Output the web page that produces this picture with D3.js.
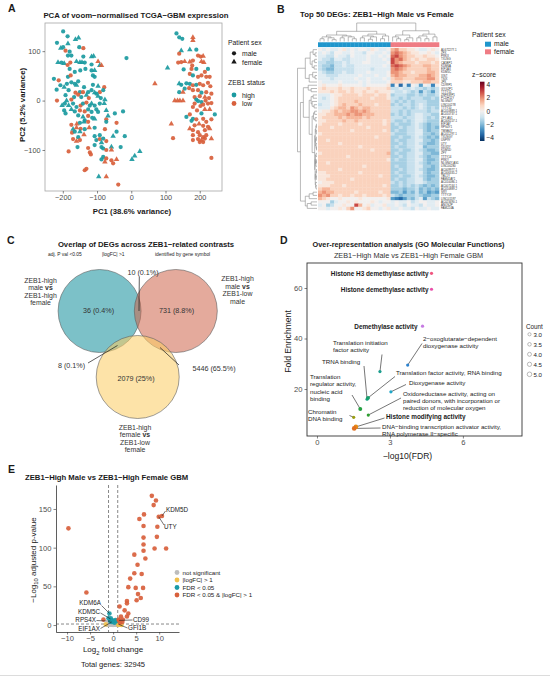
<!DOCTYPE html>
<html>
<head>
<meta charset="utf-8">
<script src="https://cdn.jsdelivr.net/npm/d3@7"></script>
<style>
  body { margin: 0; background: #fff; }
  svg { font-family: "Liberation Sans", Arial, sans-serif; }
</style>
</head>
<body>
<svg id="fig" width="550" height="680"></svg>
<script>
// ---------- data ----------
// A: PCA samples [PC1, PC2, sex (m/f), ZEB1 status (h/l)]
var pcaSamples = [
  [-199,140,"m","h"],[-186,130,"m","h"],[-154,127,"f","h"],[-163,124,"f","h"],[-217,117,"m","h"],[-185,115,"f","h"],
  [-152,108,"m","h"],[-140,106,"m","l"],[-206,106,"f","h"],[-199,108,"m","h"],[-180,99,"m","h"],[-192,101,"m","l"],
  [-185,91,"m","h"],[-175,91,"m","h"],[-140,89,"m","h"],[-116,89,"f","h"],[-110,90,"f","h"],[-14,86,"m","h"],
  [-214,77,"f","h"],[-204,77,"m","h"],[-196,75,"f","h"],[-186,72,"m","l"],[-178,77,"m","l"],[-160,79,"f","h"],
  [-150,77,"f","h"],[-144,77,"f","h"],[-136,77,"m","h"],[-97,79,"f","l"],[-92,71,"f","h"],[-87,71,"f","l"],
  [-116,73,"m","h"],[-180,64,"m","h"],[-165,58,"m","h"],[-134,64,"m","h"],[-116,61,"m","h"],[-107,61,"f","h"],
  [-149,61,"m","h"],[-185,48,"m","h"],[-177,51,"m","l"],[-112,51,"m","h"],[-107,48,"m","h"],[-226,44,"m","h"],
  [-212,41,"m","l"],[-155,39,"m","h"],[-175,37,"m","h"],[-207,31,"m","h"],[-188,34,"m","h"],[-165,34,"m","h"],
  [-160,31,"f","h"],[-196,27,"f","h"],[-138,27,"m","h"],[-79,27,"m","l"],[-112,32,"m","h"],[-97,29,"f","h"],
  [-218,22,"m","h"],[-183,21,"m","h"],[-150,17,"m","h"],[-141,17,"m","l"],[-163,16,"m","l"],[-126,17,"m","h"],
  [-116,21,"m","h"],[-107,16,"f","h"],[-92,17,"m","l"],[-82,21,"m","h"],[-102,14,"m","h"],[-192,11,"m","h"],
  [-167,7,"m","h"],[-155,12,"m","l"],[-146,7,"m","h"],[-131,11,"f","h"],[-124,5,"m","l"],[-97,9,"f","h"],
  [-89,5,"m","h"],[-77,2,"f","h"],[-217,0,"m","l"],[-189,0,"f","h"],[-175,2,"m","l"],[-202,-10,"f","h"],
  [-194,-6,"m","h"],[-183,-10,"f","h"],[-170,-6,"m","h"],[-160,-13,"m","h"],[-148,-10,"m","l"],[-141,-6,"m","h"],
  [-131,-4,"m","l"],[-121,-10,"m","h"],[-116,-6,"f","h"],[-107,-10,"m","h"],[-92,-6,"m","h"],[-79,-6,"f","h"],
  [-196,-20,"m","h"],[-175,-18,"f","h"],[-165,-22,"m","h"],[-150,-20,"m","l"],[-136,-22,"m","l"],[-126,-18,"m","h"],
  [-116,-23,"m","h"],[-102,-18,"m","h"],[-97,-23,"m","h"],[-73,-20,"f","h"],[-48,-26,"m","h"],[-24,-22,"m","h"],
  [-192,-26,"m","h"],[-155,-30,"m","h"],[-141,-33,"f","h"],[-126,-31,"m","l"],[-114,-35,"m","h"],[-107,-37,"f","h"],
  [-136,-40,"m","h"],[-73,-38,"m","l"],[-68,-31,"f","h"],[-175,-49,"m","l"],[-159,-47,"f","l"],[-150,-45,"m","h"],
  [-138,-43,"f","h"],[-126,-43,"m","l"],[-73,-43,"m","h"],[-43,-45,"m","l"],[-170,-58,"f","h"],[-160,-55,"f","l"],
  [-148,-57,"m","l"],[-136,-58,"m","h"],[-123,-55,"f","l"],[-107,-55,"m","h"],[-77,-58,"m","l"],[-173,-65,"m","l"],
  [-165,-63,"m","h"],[-150,-63,"f","h"],[-138,-69,"f","l"],[-155,-74,"m","h"],[-107,-72,"m","h"],[-92,-70,"m","h"],
  [-53,-72,"f","h"],[-43,-63,"m","h"],[-19,-72,"m","h"],[-170,-78,"m","l"],[-160,-82,"f","l"],[-150,-80,"m","l"],
  [-102,-80,"m","h"],[-92,-78,"m","l"],[-82,-77,"m","h"],[-73,-82,"m","l"],[-87,-85,"f","h"],[-157,-94,"m","h"],
  [-126,-96,"m","l"],[-107,-90,"m","h"],[-87,-94,"m","h"],[-82,-97,"m","h"],[-58,-94,"f","h"],[-31,-94,"m","h"],
  [-183,-103,"m","l"],[-121,-105,"m","l"],[-73,-100,"m","l"],[-58,-100,"f","l"],[-118,-109,"m","l"],[-82,-114,"m","h"],
  [-87,-119,"m","h"],[-73,-117,"m","l"],[-58,-121,"m","l"],[-43,-119,"f","l"],[25,-103,"f","h"],[10,-112,"f","h"],
  [2,-119,"f","h"],[-77,-124,"f","l"],[-53,-127,"m","l"],[-136,-141,"m","l"],[-131,-138,"m","l"],[-95,-154,"f","h"],
  [-73,-154,"f","l"],[-38,-170,"m","l"],
  [132,136,"m","h"],[140,128,"m","h"],[149,125,"m","h"],[180,128,"f","l"],[180,122,"f","l"],[146,101,"f","h"],
  [171,103,"f","h"],[190,103,"m","h"],[140,95,"m","l"],[195,91,"m","l"],[203,89,"m","l"],[210,90,"f","l"],
  [180,81,"m","l"],[205,79,"f","l"],[212,77,"f","l"],[137,77,"m","l"],[146,78,"m","l"],[156,79,"f","l"],
  [171,78,"f","l"],[178,71,"m","l"],[106,66,"f","h"],[153,63,"m","h"],[176,64,"m","l"],[190,64,"m","h"],
  [224,64,"m","h"],[215,58,"m","l"],[171,54,"m","l"],[180,51,"m","h"],[195,48,"m","l"],[205,51,"m","l"],
  [219,48,"m","l"],[229,48,"m","l"],[69,34,"f","l"],[140,34,"f","h"],[146,32,"m","h"],[161,35,"m","h"],
  [171,34,"m","h"],[180,31,"m","l"],[190,32,"m","h"],[200,34,"m","l"],[210,31,"m","l"],[224,36,"m","l"],
  [231,29,"m","l"],[156,24,"m","h"],[169,25,"m","l"],[140,17,"m","h"],[151,17,"f","l"],[180,21,"m","l"],
  [195,21,"m","l"],[205,16,"m","h"],[219,17,"m","l"],[234,14,"m","l"],[185,7,"m","l"],[200,9,"m","l"],
  [215,7,"f","l"],[227,5,"m","l"],[127,0,"f","l"],[135,0,"f","l"],[142,0,"f","l"],[151,0,"f","l"],
  [190,2,"m","h"],[195,-1,"m","h"],[205,-3,"m","h"],[217,0,"m","l"],[185,-6,"m","l"],[210,-8,"m","l"],
  [224,-6,"m","l"],[234,-5,"m","l"],[180,-13,"m","l"],[202,-11,"m","l"],[215,-18,"f","l"],[229,-18,"f","l"],
  [244,-28,"m","h"],[192,-20,"m","l"],[205,-26,"m","h"],[161,-33,"m","h"],[171,-28,"m","l"],[180,-37,"m","h"],
  [176,-41,"m","h"],[190,-38,"m","l"],[210,-37,"m","l"],[219,-43,"m","l"],[234,-38,"m","l"],[185,-50,"m","l"],
  [198,-47,"f","l"],[210,-51,"m","l"],[224,-53,"m","l"],[171,-57,"f","l"],[180,-60,"m","l"],[195,-64,"m","l"],
  [215,-60,"m","l"],[229,-57,"f","l"],[117,-47,"f","l"],[200,-70,"m","l"],[219,-70,"m","l"],[180,-70,"m","l"],
  [210,-74,"m","l"],[234,-77,"f","l"],[122,-76,"m","l"],[180,-80,"m","l"],[195,-78,"m","l"],[205,-80,"f","l"],
  [215,-77,"m","l"],[200,-84,"m","l"],[210,-84,"m","l"],[234,-116,"m","l"]
];
var pcaXTicks = [-200, -100, 0, 100, 200];
var pcaYTicks = [-100, 0, 100];

// B: heatmap, z-scores coded a..q = -4..4 in steps of 0.5 (18 male, 12 female samples)
var hmGenes = ["AL672277.1","ZFX","PRKX","TXLNG","CA5BP1","KDM6A","EIF1AX","KDM5C","XIST","TSIX","JPX","CD99P1",
  "GYG2P1","TTTY15","ZNF839P1","PCDH11Y","NLGN4Y","LINC00278","TTTY10","AC010889.1","AC010737.1","ZFY-AS1",
  "AC006157.1","EIF1AY","RPS4Y1","TMSB4Y","AC011297.1","TXLNGY","USP9Y","UTY","DDX3Y","KDM5D","ZFY","TTTY14",
  "PRKY","NLGN4Y-AS1","LINC00280","AC009977.1","AC006335.2","TBL1Y","FAM41AY1","AC010086.1","AC007244.1",
  "AC010889.2","SRY","TTTY19","LINC01597","AC023490.1","ANOS2P","FAM224A"];
var hmMale = ["ihihhijhihiihjihhi","hihgiihhihhgiihhih","hhggihhgihhhihhihi","hggfhhgghhhhihhhih","ggffgghghhhiihhhhi",
  "gffegghgghhhhhhhih","gfeeggggghhhhghhhh","hgffgghgghhhihhhhi","hhggghhhhhihhhihhi","hhhghhhhhihhihhhih",
  "ihhhhihhhhihihhhhi","ijiiijiiiiihiiiiij","jkjjjkjjkjjjkjjjjk","jjjkjkkjkjjkjjkjjj","hhhijjkkkkjkkkjkkj",
  "hghijkkkkkkkkjkkkj","hhhijkkkklkkkkkkkk","ghhijklkkklkkkjkkk","hhhjkllkmlkllkkkkk","ijjklkllmmlmlkkkkk",
  "jjkklllmlmmlllkkkk","jkkkklkllllklkkkkk","jjkkkklkklkkkkkkjk","jkkkkjkkkkjkkkkkjk","kkkjkkkkkkkkjkkkkk",
  "kkkkkkkkjkkkkkkkjk","jkkkkkkkkkkkkkkkkk","kkkkkkkkkkkkkkjkkk","kkjkkkkkkkkkkkkkkk","kkkkkjkkkkkkkkkkkk",
  "kkkkkkkkkkjkkkkkkk","kkkkkkkkkkkkkjkkkk","jkkkkkkkkkkkkkkkkl","kkkkkkkjkkkkkkkkkk","kkkkkkkkkkkkkkkkkj",
  "kkjkkkkkkkkkkkkkkk","kkkkkkkkkkkjkkkkkk","kkkkkjkkkkkkkkkkkk","jjkkkkkkkkjkkkkkkk","jjjkkkkkkkkkkkkjkk",
  "jjkkkkkkjkkkkkkkkk","ijjjkkkkkkkkkkkkkk","jjjkkkjkkkkkkkkkjk","kllkkkkkkkkkkkkkkk","lmllkkkkkjkkkkkjkk",
  "mlmkkjkkjkkjkkkkjk","lkjiijiiiijiiiiiij","iiifhiijijiiijihii","hifgiijiiolijhiijh","iihiijikmiijkiihij"];
var hmFemale = ["lmkkjjihhiji","mnmlkjjiijih","nomlkkjjkjji","omnlkjkjjkkj","omlkkkjkkkjk",
  "nonmlkkkllkk","mnmlkkkkklkk","mmlkkjkkkllk","lmllkkkllmlk","kllkkklllmmk",
  "kkkjjkkkllkk","cibhcihdihci","gghgghggfgfg","hgghgfgdgfdg","fgggffgfgffg",
  "ggfgfgggffgf","gfgfgfgggfff","fgfggfghgfff","gggfgfghgfgf","ggfgfggggfgg",
  "fgfgfghhggff","gggfgghhgfgf","gffgfghhgfff","fgfffghgfeff","ffgfgghgfefe",
  "fgffgghhfeff","gfffgghhffef","ffgffghgfefe","fgffgghhffef","ffgfgghgfeef",
  "fgffgghhefff","ffgffghgfeef","fgffgghhffee","ffgfgghgfeff","fgffgghhfeef",
  "ffffgghgfeff","fgffgghhffef","ffgfgghgfeef","fgffgghhfeff","ffgffghgfeef",
  "fgffgghhfeff","gfgfgghhgfff","ffgfgfgfefef","fffeffgefefe","eefdfegefded",
  "gfefffgfeeff","dcbdfeghdgfe","hihhighiihhi","hihgihhgihhi","hhihhgihhihh"];
// dendrograms as [height, left, right]; leaves are row / column indices
var hmRowTree = [10,
  [6, [3.5, [2, 0, [1, 1, 2]], [2.5, [1.2, 3, 4], [1.5, 5, 6]]],
      [4, [2.2, 7, [1, 8, 9]], 10]],
  [8.5,
    [7, [4.5, 11, [3, 12, 13]],
        [4, [3, [2, 14, 15], [2.5, 16, [1.5, 17, 18]]],
            [2.5, [1.8, [1.2, 19, 20], [1, 21, 22]],
                [1.2, [0.9, [0.6, [0.3, 23, 24], [0.4, 25, 26]], [0.7, [0.35, 27, 28], [0.5, 29, [0.25, 30, 31]]]],
                      [1.0, [0.8, [0.45, 32, 33], [0.6, [0.3, 34, 35], 36]],
                            [0.9, [0.55, [0.3, 37, 38], [0.4, 39, 40]], [0.7, 41, [0.5, 42, 43]]]]]]]],
    [6, [4, [2, 44, 45], 46], [5, [3, 47, 48], 49]]]];
var hmColTree = [10,
  [5.5, [3.5, [2.5, [1.5, 0, 1], [2, 2, [1, 3, 4]]], [3, [2, 5, 6], [2.5, 7, [1.5, 8, 9]]]],
        [4, [3, [2, 10, 11], [2.5, [1.2, 12, 13], 14]], [3, [1.5, 15, 16], 17]]],
  [5.8, [3.5, [2.5, 18, [1.5, 19, 20]], [2, [1, 21, 22], 23]],
        [4, [3, [2, 24, 25], [1.5, 26, 27]], [2.5, 28, 29]]]];
var zTicks = [4, 2, 0, -2, -4];

// C: Venn region counts (A = high male vs high female, B = high male vs low male, C = high female vs low female)
var vennRegions = ["A", "B", "C", "AB", "AC", "BC", "ABC"];
var vennCounts = [36, 731, 2079, 10, 8, 5446, 0];

// D: GO over-representation
var goTerms = ["Histone H3 demethylase activity", "Histone demethylase activity", "Demethylase activity",
  "2−oxoglutarate−dependent dioxygenase activity", "Translation initiation factor activity", "TRNA binding",
  "Translation factor activity, RNA binding", "Dioxygenase activity",
  "Translation regulator activity, nucleic acid binding",
  "Oxidoreductase activity, acting on paired donors, with incorporation or reduction of molecular oxygen",
  "Chromatin DNA binding", "Histone modifying activity",
  "DNA−binding transcription activator activity, RNA polymerase II−specific"];
var goNegLog10FDR = [4.71, 4.71, 4.34, 3.73, 2.59, 2.06, 2.10, 3.04, 1.78, 2.11, 1.51, 1.60, 1.53];
var goFoldEnrichment = [65.8, 59.5, 44.9, 29.5, 26.9, 16.0, 16.5, 18.9, 12.1, 9.7, 8.8, 5.0, 4.4];
var goCount = [3, 3, 3, 3, 3, 3, 4, 3, 4, 3, 3, 5, 5];
var goCountLegend = [3.0, 3.5, 4.0, 4.5, 5.0];

// E: volcano, [log2FC, -log10 adj p]
var volcBoth = [[-9.7,125],[8.4,167],[9.3,161],[8.8,155],[9.9,140],[10.6,141],[6.7,143],[5.7,137],[6.6,128],
  [9.6,127],[6.6,113],[9.5,114],[6.6,104],[9.0,99],[11.5,99],[6.6,96],[4.6,91],[7.0,86],[5.3,78],[4.6,67],
  [6.2,66],[3.7,60],[6.5,48],[4.9,48],[3.3,49],[5.4,40],[6.0,35],[5.1,32],[3.0,31],[3.0,28],[1.4,24],
  [2.5,19],[3.3,15],[3.0,11],[1.7,11],[1.2,7],[2.1,7],[-5.8,42],[-2.1,7],[2.0,4],[1.5,3],[1.3,6]];
var volcFDR = [[-0.8,15],[-0.5,8.7],[-0.3,6.5],[0.07,5],[-1.0,8.7],[0.65,5],[-0.6,5],[-0.3,4],[0.3,3],[0.5,6.5]];
var volcLFC = [[1.2,0.9],[1.5,0.5],[1.1,0.3],[-1.6,0.8],[1.8,0.2],[1.3,1.1]];
var volcNS = [[-1.2,0.5],[-0.9,1],[-0.6,0.3],[-0.3,0.8],[0,0.2],[0.3,0.6],[0.6,0.4],[0.9,0.2],[-0.5,1.1],
  [0.2,1.2],[-1.0,0.1],[0.5,0.9],[-0.2,0.4]];
var volcGenes = ["KDM5D", "UTY", "KDM6A", "KDM5C", "RPS4X", "EIF1AX", "CD99", "GFI1B"];
var volcGeneLFC = [10.6, 9.9, -0.8, -0.6, -0.6, -0.3, 1.3, 1.2];
var volcGeneP = [141, 140, 15, 8, 5, 4, 6, 0.9];
var volcXTicks = [-10, -5, 0, 5, 10];
var volcYTicks = [0, 50, 100, 150];
var totalGenes = 32945;

// ---------- drawing ----------
var FONT = '"Liberation Sans", Arial, sans-serif';
var svg = d3.select("#fig");
svg.append("rect").attr("width", 550).attr("height", 680).attr("fill", "#fff");

function txt(g, x, y, s, size, opts) {
  opts = opts || {};
  return g.append("text").attr("x", x).attr("y", y)
    .attr("font-size", size)
    .attr("font-weight", opts.bold ? "bold" : null)
    .attr("text-anchor", opts.anchor || "start")
    .attr("fill", opts.fill || "#1a1a1a")
    .text(s);
}
function styleAxis(g, fs) {
  g.attr("font-family", FONT);
  g.select(".domain").remove();
  g.selectAll(".tick line").attr("stroke", "#333").attr("stroke-width", 0.6);
  g.selectAll(".tick text").attr("fill", "#4d4d4d").attr("font-size", fs);
}

txt(svg, 8, 12, "A", 10.5, {bold: true});
txt(svg, 277, 13, "B", 10.5, {bold: true});
txt(svg, 7, 244, "C", 10.5, {bold: true});
txt(svg, 280, 244, "D", 10.5, {bold: true});
txt(svg, 8, 473, "E", 10.5, {bold: true});

// ===== A: PCA =====
var gA = svg.append("g");
var xA = d3.scaleLinear().domain([-252, 265]).range([45, 222]);
var yA = d3.scaleLinear().domain([-183, 157]).range([191, 23]);
var colA = {h: "#1b9aa0", l: "#d8603c"};
txt(gA, 136, 17.8, "PCA of voom−normalised TCGA−GBM expression", 7.8, {bold: true, anchor: "middle"});
gA.append("rect").attr("x", 45).attr("y", 23).attr("width", 177).attr("height", 168)
  .attr("fill", "none").attr("stroke", "#a6a6a6").attr("stroke-width", 0.8);
gA.append("g").attr("transform", "translate(0,191)")
  .call(d3.axisBottom(xA).tickValues(pcaXTicks).tickSize(2.5).tickPadding(1.5))
  .call(styleAxis, 7.3);
gA.append("g").attr("transform", "translate(45,0)")
  .call(d3.axisLeft(yA).tickValues(pcaYTicks).tickSize(2.5).tickPadding(2))
  .call(styleAxis, 7.3);
txt(gA, 132, 213.5, "PC1 (38.6% variance)", 7.8, {bold: true, anchor: "middle"});
txt(gA, 0, 0, "PC2 (5.2% variance)", 7.8, {bold: true, anchor: "middle"})
  .attr("transform", "translate(24.5,105) rotate(-90)");

var tri = d3.symbol().type(d3.symbolTriangle).size(13);
gA.append("g").selectAll("path")
  .data(pcaSamples)
  .enter().append("path")
    .attr("transform", function(d) { return "translate(" + xA(d[0]) + "," + yA(d[1]) + ")"; })
    .attr("d", function(d) { return d[2] === "f" ? tri() : d3.symbol().type(d3.symbolCircle).size(14)(); })
    .attr("fill", function(d) { return colA[d[3]]; })
    .attr("opacity", 0.92);

// legend
txt(gA, 228, 45, "Patient sex", 6.8);
gA.append("path").attr("transform", "translate(234,53.3)").attr("d", d3.symbol().type(d3.symbolCircle).size(14)()).attr("fill", "#1a1a1a");
gA.append("path").attr("transform", "translate(234,62)").attr("d", tri()).attr("fill", "#1a1a1a");
txt(gA, 242, 55.8, "male", 6.8);
txt(gA, 242, 64.6, "female", 6.8);
txt(gA, 228, 84.8, "ZEB1 status", 6.8);
[["h", "high", 95], ["l", "low", 103.5]].forEach(function(k) {
  gA.append("circle").attr("cx", 234).attr("cy", k[2]).attr("r", 2.4).attr("fill", colA[k[0]]);
  txt(gA, 242, k[2] + 2.5, k[1], 6.8);
});

// ===== B: heatmap =====
var gB = svg.append("g");
txt(gB, 300, 17, "Top 50 DEGs: ZEB1−High Male vs Female", 7.8, {bold: true});
var nMale = hmMale[0].length, nFemale = hmFemale[0].length;
var xH = d3.scaleBand().domain(d3.range(nMale + nFemale)).range([318, 439]);
var yH = d3.scaleBand().domain(d3.range(hmGenes.length)).range([48, 210]);
var zColor = d3.scaleSequential(d3.interpolateRdBu).domain([4.5, -4.5]);
var cells = [];
hmGenes.forEach(function(g, r) {
  (hmMale[r] + hmFemale[r]).split("").forEach(function(ch, c) {
    cells.push({r: r, c: c, z: (ch.charCodeAt(0) - 105) * 0.5});
  });
});
gB.append("g").selectAll("rect")
  .data(cells)
  .enter().append("rect")
    .attr("x", function(d) { return xH(d.c); })
    .attr("y", function(d) { return yH(d.r); })
    .attr("width", xH.bandwidth() + 0.3)
    .attr("height", yH.bandwidth() + 0.3)
    .attr("fill", function(d) { return zColor(d.z); });

// annotation bar
var sexCol = {male: "#1f96cc", female: "#ef7c84"};
gB.append("g").selectAll("rect")
  .data(d3.range(nMale + nFemale))
  .enter().append("rect")
    .attr("x", function(c) { return xH(c); })
    .attr("y", 42.3)
    .attr("width", xH.bandwidth() + 0.3)
    .attr("height", 4.8)
    .attr("fill", function(c) { return c < nMale ? sexCol.male : sexCol.female; });

function dendro(g, tree, band, hScale, vertical) {
  var root = d3.hierarchy(tree, function(d) { return Array.isArray(d) ? d.slice(1) : null; });
  root.eachAfter(function(n) {
    if (n.children) { n.p = (n.children[0].p + n.children[1].p) / 2; n.h = n.data[0]; }
    else { n.p = band(n.data) + band.bandwidth() / 2; n.h = 0; }
  });
  var path = "";
  root.each(function(n) {
    if (!n.children) return;
    var a = n.children[0], b = n.children[1], H = hScale(n.h);
    if (vertical) path += "M" + a.p + "," + hScale(a.h) + "V" + H + "H" + b.p + "V" + hScale(b.h);
    else path += "M" + hScale(a.h) + "," + a.p + "H" + H + "V" + b.p + "H" + hScale(b.h);
  });
  g.append("path").attr("d", path).attr("fill", "none").attr("stroke", "#8c8c8c").attr("stroke-width", 0.6);
}
dendro(gB, hmColTree, xH, d3.scaleLinear().domain([0, 10]).range([41.5, 23]), true);
dendro(gB, hmRowTree, yH, d3.scaleLinear().domain([0, 10]).range([317, 297.5]), false);

gB.append("g").selectAll("text")
  .data(hmGenes)
  .enter().append("text")
    .attr("x", 441)
    .attr("y", function(d, i) { return yH(i) + yH.bandwidth() / 2 + 1; })
    .attr("font-size", 2.9)
    .attr("fill", "#333")
    .text(function(d) { return d; });

// legends
txt(gB, 472, 37, "Patient sex", 6.8);
[["male", 41.7], ["female", 49.3]].forEach(function(k) {
  gB.append("rect").attr("x", 485).attr("y", k[1]).attr("width", 6).attr("height", 5).attr("fill", sexCol[k[0]]);
  txt(gB, 494, k[1] + 4.6, k[0], 6.8);
});
txt(gB, 472, 76.5, "z−score", 6.8);
var zBar = d3.scaleLinear().domain([-4.5, 4.5]).range([141, 81.7]);
var grad = svg.append("defs").append("linearGradient").attr("id", "zgrad")
  .attr("x1", 0).attr("y1", 1).attr("x2", 0).attr("y2", 0);
d3.range(0, 1.0001, 0.1).forEach(function(t) {
  grad.append("stop").attr("offset", t).attr("stop-color", zColor(-4.5 + 9 * t));
});
gB.append("rect").attr("x", 480).attr("y", zBar(4.5)).attr("width", 4.5)
  .attr("height", zBar(-4.5) - zBar(4.5)).attr("fill", "url(#zgrad)");
gB.append("g").selectAll("text")
  .data(zTicks)
  .enter().append("text")
    .attr("x", 486.5)
    .attr("y", function(d) { return zBar(d) + 2.3; })
    .attr("font-size", 6.6)
    .attr("fill", "#1a1a1a")
    .text(function(d) { return d < 0 ? "−" + (-d) : d; });

// ===== C: Venn =====
var gC = svg.append("g");
txt(gC, 146, 247, "Overlap of DEGs across ZEB1−related contrasts", 7.7, {bold: true, anchor: "middle"});
txt(gC, 48, 255.5, "adj. P val <0.05", 4.9);
txt(gC, 102, 255.5, "|logFC| >1", 4.9);
txt(gC, 155, 255.5, "identified by gene symbol", 4.9);

var vennCentre = [137.7, 333], vennDist = 44, vennR = 41.5;
var vennAngles = {A: 210, B: 330, C: 90};
var vennFill = {A: "#118e9b", B: "#ce644b", C: "#fccc61"};
["A", "B", "C"].forEach(function(k) {
  var a = vennAngles[k] * Math.PI / 180;
  gC.append("circle")
    .attr("cx", vennCentre[0] + vennDist * Math.cos(a))
    .attr("cy", vennCentre[1] + vennDist * Math.sin(a))
    .attr("r", vennR)
    .attr("fill", vennFill[k]).attr("fill-opacity", 0.55)
    .attr("stroke", "#5e5e5e").attr("stroke-width", 0.6);
});
var vennTotal = d3.sum(vennCounts);
function pct(n) { return n + " (" + (+(100 * n / vennTotal).toFixed(1)) + "%)"; }
// label spot, leader line start/end (layout)
var vennLabelAt = {
  A: [98.5, 312.5], B: [176.5, 312.5], C: [136, 381],
  AB: [143, 275, 139.3, 277, 139, 311], AC: [71.5, 367.5, 88, 363, 117.5, 345.5],
  BC: [214, 370.5, 179, 365, 160, 347.5]
};
vennRegions.forEach(function(k, i) {
  var p = vennLabelAt[k];
  if (!p) return;
  if (p.length > 2) gC.append("line").attr("x1", p[2]).attr("y1", p[3]).attr("x2", p[4]).attr("y2", p[5])
    .attr("stroke", "#1a1a1a").attr("stroke-width", 0.7);
  txt(gC, p[0], p[1], pct(vennCounts[i]), 7.2, {anchor: "middle", fill: "#333"});
});
function setLabel(x, y, lines) {
  var t = gC.append("text").attr("x", x).attr("y", y).attr("font-size", 6.9)
    .attr("text-anchor", "middle").attr("fill", "#333");
  lines.forEach(function(l, i) {
    var ts = t.append("tspan").attr("x", x).attr("dy", i ? 7.5 : 0).text(l[0]);
    if (l[1]) ts.append("tspan").attr("font-weight", "bold").text(l[1]);
  });
}
setLabel(40.5, 282.5, [["ZEB1-high"], ["male ", "vs"], ["ZEB1-high"], ["female"]]);
setLabel(237.5, 281, [["ZEB1-high"], ["male ", "vs"], ["ZEB1-low"], ["male"]]);
setLabel(135, 429.5, [["ZEB1-high"], ["female ", "vs"], ["ZEB1-low"], ["female"]]);

// ===== D: GO ORA =====
var gD = svg.append("g");
txt(gD, 408.5, 247, "Over-representation analysis (GO Molecular Functions)", 7.3, {bold: true, anchor: "middle"});
txt(gD, 408.5, 258.3, "ZEB1−High Male vs ZEB1−High Female GBM", 7.3, {anchor: "middle", fill: "#333"});
var xD = d3.scaleLinear().domain([-0.41, 8.43]).range([307, 522]);
var yD = d3.scaleLinear().domain([1.4, 69.9]).range([436, 263]);
var rD = d3.scaleSqrt().domain([3, 5]).range([1.6, 2.3]);
gD.append("rect").attr("x", 307).attr("y", 263).attr("width", 215).attr("height", 173)
  .attr("fill", "none").attr("stroke", "#333").attr("stroke-width", 0.9);
gD.append("g").attr("transform", "translate(0,436)")
  .call(d3.axisBottom(xD).tickValues([0, 3, 6]).tickSize(2.5).tickPadding(1.5)).call(styleAxis, 7.6);
gD.append("g").attr("transform", "translate(307,0)")
  .call(d3.axisLeft(yD).tickValues([20, 40, 60]).tickSize(2.5).tickPadding(2)).call(styleAxis, 7.6);
txt(gD, 407.5, 458.5, "−log10(FDR)", 8.6, {anchor: "middle"});
txt(gD, 0, 0, "Fold Enrichment", 8.6, {anchor: "middle"}).attr("transform", "translate(291,341.5) rotate(-90)");

var goColor = ["#f0557f", "#e94fa9", "#c67ae2", "#2c82cf", "#1b9e8e", "#13a27e", "#17a06b", "#1fa7c8",
  "#24a041", "#2f9e31", "#9a9d12", "#e58a14", "#e07020"];
var goBold = [1, 1, 1, 0, 0, 0, 0, 0, 0, 0, 0, 1, 0];
// label text lines, x, first line y, anchor, leader start (x,y)
var goLabels = [
  [["Histone H3 demethylase activity"], 428.5, 275.5, "end"],
  [["Histone demethylase activity"], 428.5, 291.5, "end"],
  [["Demethylase activity"], 417.5, 328.5, "end"],
  [["2−oxoglutarate−dependent", "dioxygenase activity"], 423, 341, "start", 422, 343.5],
  [["Translation initiation", "factor activity"], 333, 345, "start", 382, 354.5],
  [["TRNA binding"], 322, 364, "start", 364, 366],
  [["Translation factor activity, RNA binding"], 396, 375, "start", 395, 376.5],
  [["Dioxygenase activity"], 409, 384.5, "start", 406, 384.5],
  [["Translation", "regulator activity,", "nucleic acid", "binding"], 310, 379, "start", 352, 395],
  [["Oxidoreductase activity, acting on", "paired donors, with incorporation or", "reduction of molecular oxygen"], 403, 395.5, "start", 401, 398],
  [["Chromatin", "DNA binding"], 308, 414, "start", 349.5, 415.5],
  [["Histone modifying activity"], 386, 418.5, "start", 384.5, 418],
  [["DNA−binding transcription activator activity,", "RNA polymerase II−specific"], 382, 428.5, "start", 380.5, 428]
];
goTerms.forEach(function(term, i) {
  var L = goLabels[i];
  if (L.length > 4) gD.append("line").attr("x1", L[4]).attr("y1", L[5])
    .attr("x2", xD(goNegLog10FDR[i])).attr("y2", yD(goFoldEnrichment[i]))
    .attr("stroke", "#1a1a1a").attr("stroke-width", 0.6);
  var t = gD.append("text").attr("x", L[1]).attr("y", L[2])
    .attr("font-size", goBold[i] ? 6.4 : 6.2)
    .attr("font-weight", goBold[i] ? "bold" : null)
    .attr("text-anchor", L[3]).attr("fill", "#1a1a1a");
  L[0].forEach(function(line, j) { t.append("tspan").attr("x", L[1]).attr("dy", j ? 7.4 : 0).text(line); });
});
gD.append("g").selectAll("circle")
  .data(goTerms)
  .enter().append("circle")
    .attr("cx", function(d, i) { return xD(goNegLog10FDR[i]); })
    .attr("cy", function(d, i) { return yD(goFoldEnrichment[i]); })
    .attr("r", function(d, i) { return rD(goCount[i]); })
    .attr("fill", function(d, i) { return goColor[i]; });
txt(gD, 526, 328.5, "Count", 6.3);
goCountLegend.forEach(function(c, i) {
  var y = 334.3 + i * 10;
  gD.append("circle").attr("cx", 529.5).attr("cy", y).attr("r", rD(c))
    .attr("fill", "none").attr("stroke", "#8c8c8c").attr("stroke-width", 0.6);
  txt(gD, 533.5, y + 2.2, c.toFixed(1), 6.1);
});

// ===== E: volcano =====
var gE = svg.append("g");
txt(gE, 25, 479.5, "ZEB1−High Male vs ZEB1−High Female GBM", 7.7, {bold: true});
var xE = d3.scaleLinear().domain([-12.4, 14.3]).range([56, 179]);
var yE = d3.scaleLinear().domain([-9, 181]).range([632, 485]);
var axEx = gE.append("g").attr("transform", "translate(0,632)")
  .call(d3.axisBottom(xE).tickValues(volcXTicks).tickSize(2.5).tickSizeOuter(0).tickPadding(1.5));
var axEy = gE.append("g").attr("transform", "translate(56,0)")
  .call(d3.axisLeft(yE).tickValues(volcYTicks).tickSize(2.5).tickSizeOuter(0).tickPadding(2));
[axEx, axEy].forEach(function(a) {
  a.attr("font-family", FONT);
  a.select(".domain").attr("stroke", "#1a1a1a").attr("stroke-width", 0.7);
  a.selectAll(".tick line").attr("stroke", "#333").attr("stroke-width", 0.6);
  a.selectAll(".tick text").attr("fill", "#4d4d4d").attr("font-size", 7.6);
});
[-1, 1].forEach(function(v) {
  gE.append("line").attr("x1", xE(v)).attr("x2", xE(v)).attr("y1", 485).attr("y2", 632)
    .attr("stroke", "#555").attr("stroke-width", 0.7).attr("stroke-dasharray", "3,2");
});
gE.append("line").attr("x1", 56).attr("x2", 179).attr("y1", yE(1.3)).attr("y2", yE(1.3))
  .attr("stroke", "#555").attr("stroke-width", 0.7).attr("stroke-dasharray", "3,2");

var volcCol = {ns: "#bdbdbd", lfc: "#f1c04c", fdr: "#1a9aa6", both: "#d8603c"};
[["ns", volcNS], ["lfc", volcLFC], ["fdr", volcFDR], ["both", volcBoth]].forEach(function(s) {
  gE.append("g").selectAll("circle")
    .data(s[1])
    .enter().append("circle")
      .attr("cx", function(d) { return xE(d[0]); })
      .attr("cy", function(d) { return yE(d[1]); })
      .attr("r", 2.3)
      .attr("fill", volcCol[s[0]])
      .attr("opacity", 0.92);
});
// gene labels: text x, y, anchor, leader start
var volcLabelAt = [[166, 511.5, "start", 165.5, 511], [164, 528.5, "start", 164, 525],
  [101, 604.5, "end", 101.5, 605.5], [100, 613.5, "end", 100.5, 613], [96, 621.8, "end", 96.5, 620.5],
  [100, 630.5, "end", 100.5, 628.5], [133, 621.5, "start", 132.5, 620], [128, 630, "start", 127.5, 628]];
volcGenes.forEach(function(g, i) {
  var L = volcLabelAt[i];
  gE.append("line").attr("x1", L[3]).attr("y1", L[4])
    .attr("x2", xE(volcGeneLFC[i])).attr("y2", yE(volcGeneP[i]))
    .attr("stroke", "#1a1a1a").attr("stroke-width", 0.6);
  txt(gE, L[0], L[1], g, 6.3, {anchor: L[2]});
});
var volcLegend = [["ns", "not significant"], ["lfc", "|logFC| > 1"], ["fdr", "FDR < 0.05"], ["both", "FDR < 0.05 & |logFC| > 1"]];
volcLegend.forEach(function(k, i) {
  var y = 572.5 + i * 7.5;
  gE.append("circle").attr("cx", 177).attr("cy", y).attr("r", 2.4).attr("fill", volcCol[k[0]]);
  txt(gE, 182.5, y + 2.2, k[1], 6.2);
});
var xt = gE.append("text").attr("x", 113).attr("y", 652).attr("font-size", 8).attr("text-anchor", "middle").attr("fill", "#1a1a1a");
xt.append("tspan").text("Log");
xt.append("tspan").attr("font-size", 5.8).attr("dy", 2.5).text("2");
xt.append("tspan").attr("dy", -2.5).text(" fold change");
txt(gE, 113, 667, "Total genes: " + totalGenes, 7.6, {anchor: "middle"});
var yt = gE.append("text").attr("transform", "translate(35.5,560) rotate(-90)")
  .attr("font-size", 8).attr("text-anchor", "middle").attr("fill", "#1a1a1a");
yt.append("tspan").text("−Log");
yt.append("tspan").attr("font-size", 5.8).attr("dy", 2.5).text("10");
yt.append("tspan").attr("dy", -2.5).text(" adjusted p-value");

svg.append("line").attr("x1", 0).attr("x2", 550).attr("y1", 675.5).attr("y2", 675.5)
  .attr("stroke", "#dcdcdc").attr("stroke-width", 1);
</script>
</body>
</html>
